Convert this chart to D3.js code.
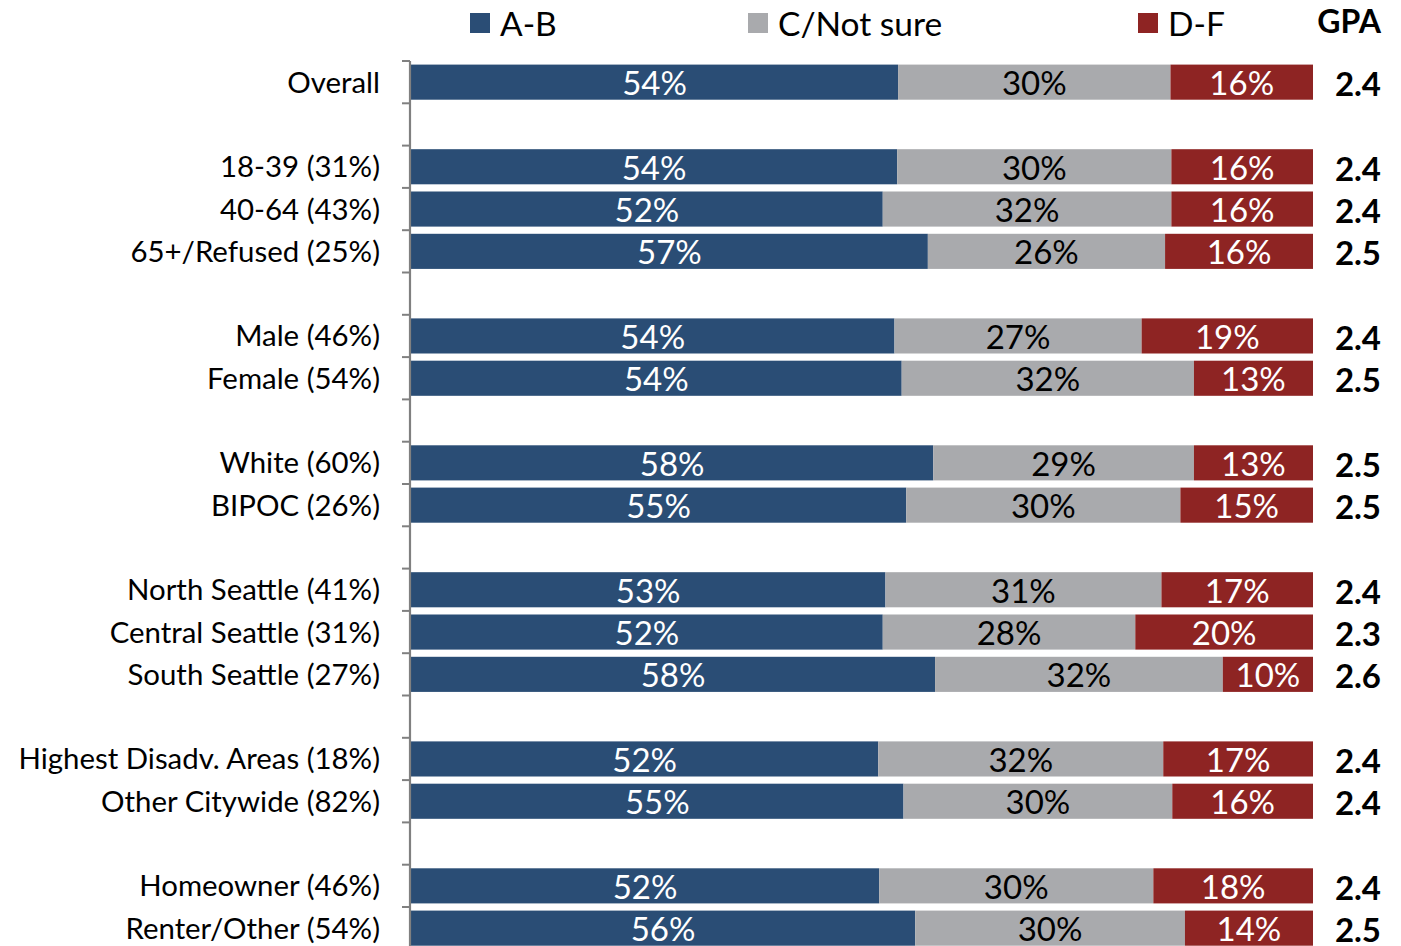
<!DOCTYPE html>
<html><head><meta charset="utf-8">
<script src="https://cdn.jsdelivr.net/npm/d3@7"></script>
<style>body{margin:0;background:#fff}svg{display:block}text{font-family:Lato,"Open Sans",sans-serif}</style>
</head><body><svg id="c" width="1401" height="946"></svg>
<script>
const categories = ["Overall","",
  "18-39 (31%)","40-64 (43%)","65+/Refused (25%)","",
  "Male (46%)","Female (54%)","",
  "White (60%)","BIPOC (26%)","",
  "North Seattle (41%)","Central Seattle (31%)","South Seattle (27%)","",
  "Highest Disadv. Areas (18%)","Other Citywide (82%)","",
  "Homeowner (46%)","Renter/Other (54%)"];
const seriesNames = ["A-B","C/Not sure","D-F"];
const gradeAB   = [54.0,null,53.9,52.3,57.3,null,53.6,54.4,null,57.9,54.9,null,52.6,52.3,58.1,null,51.8,54.6,null,51.9,55.9];
const gradeC    = [30.2,null,30.4,32.0,26.3,null,27.4,32.4,null,28.9,30.4,null,30.6,28.0,31.9,null,31.6,29.8,null,30.4,29.9];
const gradeDF   = [15.8,null,15.7,15.7,16.4,null,19.0,13.2,null,13.2,14.7,null,16.8,19.7,10.0,null,16.6,15.6,null,17.7,14.2];
const gpa       = ["2.4",null,"2.4","2.4","2.5",null,"2.4","2.5",null,"2.5","2.5",null,"2.4","2.3","2.6",null,"2.4","2.4",null,"2.4","2.5"];
const colors = ["#2a4d75","#a9aaad","#8e2423"];
const labelColors = ["#fff","#000","#fff"];

const svg = d3.select("#c");
const keys = categories.map((c,i)=> c==="" ? "gap"+i : c);
const rows = keys.map((k,i)=>({key:k, name:categories[i], "A-B":gradeAB[i], "C/Not sure":gradeC[i], "D-F":gradeDF[i], gpa:gpa[i]}));
const data = rows.filter(r=>r["A-B"]!=null);

const x = d3.scaleLinear().domain([0,100]).range([411,1313]);
const y = d3.scaleBand().domain(keys).range([61,61+21*42.3]).paddingInner(0.17).paddingOuter(0.085);

const stack = d3.stack().keys(seriesNames)(data);

const g = svg.append("g");
stack.forEach((s,si)=>{
  g.selectAll(null).data(s).enter().append("rect")
    .attr("x",d=>x(d[0])).attr("width",d=>x(d[1])-x(d[0]))
    .attr("y",d=>y(d.data.key)).attr("height",y.bandwidth())
    .attr("fill",colors[si]);
  g.selectAll(null).data(s).enter().append("text")
    .attr("x",d=>(x(d[0])+x(d[1]))/2).attr("y",d=>y(d.data.key)+y.bandwidth()/2)
    .attr("text-anchor","middle").attr("dominant-baseline","central")
    .attr("fill",labelColors[si]).style("font-size","33px")
    .text(d=>Math.round(d[1]-d[0])+"%");
});

// axis line and boundary ticks
const r0 = y.range()[0], step = 42.3;
svg.append("line").attr("x1",410).attr("x2",410).attr("y1",r0).attr("y2",946)
  .attr("stroke","#808080").attr("stroke-width",2.2);
d3.range(0,22).forEach(i=>{
  const yy = r0 + i*step;
  svg.append("line").attr("x1",402).attr("x2",410).attr("y1",yy).attr("y2",yy)
    .attr("stroke","#808080").attr("stroke-width",2);
});

// category labels
svg.selectAll(null).data(data).enter().append("text")
  .attr("x",380).attr("y",d=>y(d.key)+y.bandwidth()/2-1)
  .attr("text-anchor","end").attr("dominant-baseline","central")
  .style("font-size","29.4px").attr("fill","#000").text(d=>d.name);

// GPA values
svg.selectAll(null).data(data).enter().append("text")
  .attr("x",1381).attr("y",d=>y(d.key)+y.bandwidth()/2+1)
  .attr("text-anchor","end").attr("dominant-baseline","central")
  .style("font-size","33px").style("font-weight","bold").attr("fill","#000").text(d=>d.gpa);

// legend
const legX = [470,748,1138];
seriesNames.forEach((n,i)=>{
  svg.append("rect").attr("x",legX[i]).attr("y",13).attr("width",20).attr("height",20).attr("fill",colors[i]);
  svg.append("text").attr("x",legX[i]+30).attr("y",23).attr("dominant-baseline","central")
    .style("font-size","33.5px").attr("fill","#000").text(n);
});
svg.append("text").attr("x",1381).attr("y",20).attr("text-anchor","end").attr("dominant-baseline","central")
  .style("font-size","32px").style("font-weight","bold").attr("fill","#000").text("GPA");
</script></body></html>
